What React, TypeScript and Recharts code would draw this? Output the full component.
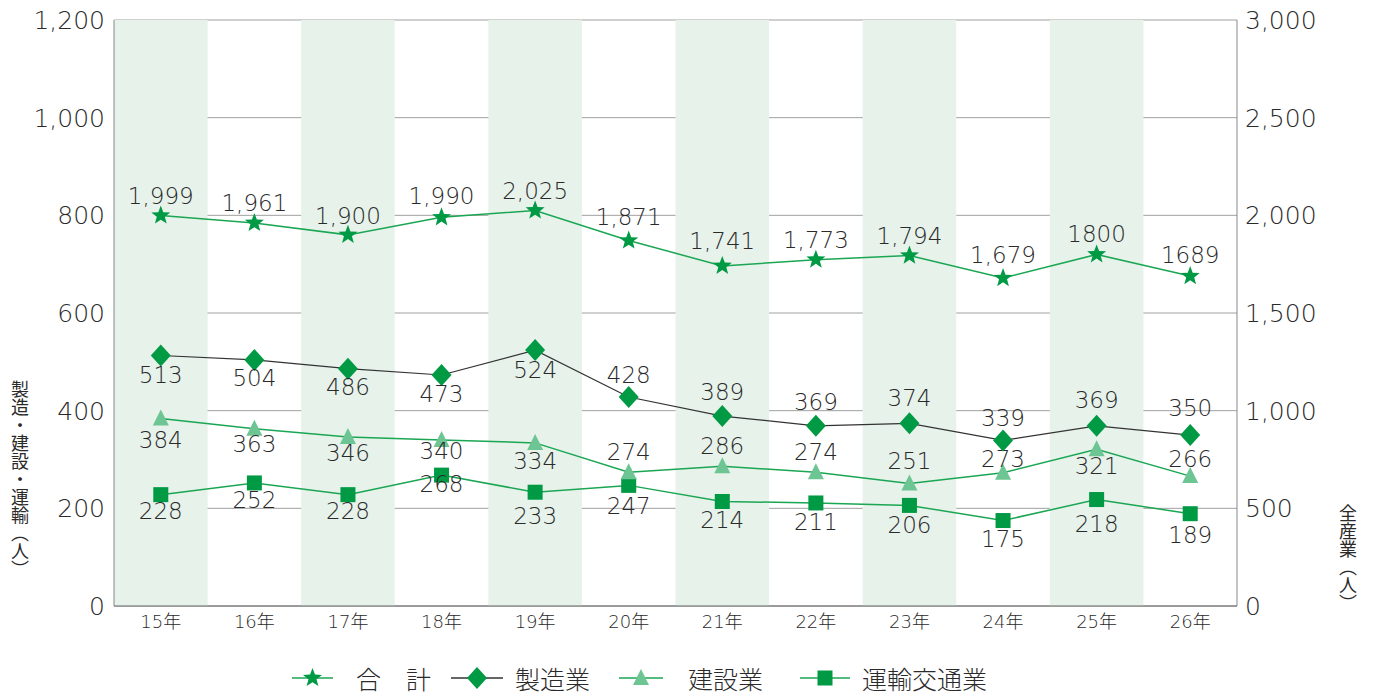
import React from 'react';
import { ComposedChart, Line, XAxis, YAxis, CartesianGrid, ReferenceArea } from 'recharts';

const categories = ['15年', '16年', '17年', '18年', '19年', '20年', '21年', '22年', '23年', '24年', '25年', '26年'];
const totalValues = [1999, 1961, 1900, 1990, 2025, 1871, 1741, 1773, 1794, 1679, 1800, 1689];
const totalLabels = ['1,999', '1,961', '1,900', '1,990', '2,025', '1,871', '1,741', '1,773', '1,794', '1,679', '1800', '1689'];
const manufacturingValues = [513, 504, 486, 473, 524, 428, 389, 369, 374, 339, 369, 350];
const constructionValues = [384, 363, 346, 340, 334, 274, 286, 274, 251, 273, 321, 266];
const transportValues = [228, 252, 228, 268, 233, 247, 214, 211, 206, 175, 218, 189];
const leftTicks = [0, 200, 400, 600, 800, 1000, 1200];
const rightTicks = [0, 500, 1000, 1500, 2000, 2500, 3000];
const shadedCategories = ['15年', '17年', '19年', '21年', '23年', '25年'];
const edgeTicks = [0, 1, 2, 3, 4, 5, 6, 7, 8, 9, 10, 11, 12];

// label offsets (style only)
const totalLabelDy = [-20, -20, -19, -21, -19, -24, -25, -20, -20, -23, -20, -21];
const manufacturingLabelDy = [20, 18, 18, 19, 20, -22, -24, -24, -25, -22, -26, -27];
const constructionLabelDy = [22, 15, 16, 11, 18, -20, -20, -20, -22, -14, 17, -17];
const transportLabelDy = [16, 17, 16, 9, 24, 21, 19, 19, 20, 18, 24, 21];

const data = categories.map((c, i) => ({
  name: c,
  total: totalValues[i],
  manufacturing: manufacturingValues[i],
  construction: constructionValues[i],
  transport: transportValues[i],
}));

const FONT = '"DejaVu Sans", "Noto Sans CJK JP", sans-serif';
const CJK = '"Noto Sans CJK JP", sans-serif';
const TEXT = '#2a2a2a';
const GREEN = '#009944';
const LINE_GREEN = '#1aa653';
const LIGHT_GREEN = '#6cc592';

const fmt = (v: number) => v.toLocaleString('en-US');

const starPoints = (cx: number, cy: number, ro: number, ri: number) => {
  const pts: string[] = [];
  for (let k = 0; k < 10; k++) {
    const r = k % 2 === 0 ? ro : ri;
    const a = -Math.PI / 2 + (k * Math.PI) / 5;
    pts.push(`${cx + r * Math.cos(a)},${cy + r * Math.sin(a)}`);
  }
  return pts.join(' ');
};

const Marker = ({ kind, cx, cy }: { kind: string; cx: number; cy: number }) => {
  if (kind === 'star') return <polygon points={starPoints(cx, cy, 10, 4.2)} fill={GREEN} />;
  if (kind === 'diamond')
    return <polygon points={`${cx},${cy - 11} ${cx + 10},${cy} ${cx},${cy + 11} ${cx - 10},${cy}`} fill={GREEN} />;
  if (kind === 'triangle')
    return <polygon points={`${cx},${cy - 9} ${cx + 8},${cy + 7} ${cx - 8},${cy + 7}`} fill={LIGHT_GREEN} />;
  return <rect x={cx - 7.5} y={cy - 7.5} width={15} height={15} fill={GREEN} />;
};

const makeDot = (kind: string, dys: number[], labels?: string[]) => (props: any) => {
  const { cx, cy, index, value } = props;
  if (cx == null || cy == null) return <g key={`d-${kind}-${index}`} />;
  const text = labels ? labels[index] : String(value);
  return (
    <g key={`d-${kind}-${index}`}>
      <Marker kind={kind} cx={cx} cy={cy} />
      <text
        x={cx}
        y={cy + dys[index]}
        textAnchor="middle"
        dominantBaseline="central"
        fontFamily={FONT}
        fontSize={23}
        fill={TEXT}
        fontWeight={200}
      >
        {text}
      </text>
    </g>
  );
};

const LegendIcon = ({ kind, lineColor, width }: { kind: string; lineColor: string; width: number }) => (
  <svg width={width} height={24} style={{ display: 'block' }}>
    <line x1={0} y1={12} x2={width} y2={12} stroke={lineColor} strokeWidth={1.5} />
    <Marker kind={kind} cx={width / 2} cy={12} />
  </svg>
);

const legendItems = [
  { label: '合　計', kind: 'star', color: LINE_GREEN, iconLeft: 292, iconWidth: 41, textLeft: 356 },
  { label: '製造業', kind: 'diamond', color: '#333333', iconLeft: 451, iconWidth: 52, textLeft: 515 },
  { label: '建設業', kind: 'triangle', color: LINE_GREEN, iconLeft: 619, iconWidth: 44, textLeft: 688 },
  { label: '運輸交通業', kind: 'square', color: LINE_GREEN, iconLeft: 800, iconWidth: 50, textLeft: 862 },
];

export default function App() {
  return (
    <div style={{ position: 'absolute', left: 0, top: 0, width: 1373, height: 695, background: '#fff', overflow: 'hidden' }}>
      <ComposedChart
        width={1373}
        height={695}
        data={data}
        margin={{ top: 20, right: 0, left: 0, bottom: 59 }}
      >
        {shadedCategories.map((c) => (
          <ReferenceArea
            key={c}
            x1={c}
            x2={c}
            yAxisId="left"
            y1={0}
            y2={1200}
            fill="#e6f2ea"
            fillOpacity={1}
            stroke="none"
            ifOverflow="visible"
          />
        ))}
        <CartesianGrid vertical={false} yAxisId="left" stroke="#a0a0a0" strokeWidth={1} />
        <XAxis
          xAxisId="edges"
          type="number"
          domain={[0, 12]}
          ticks={edgeTicks}
          allowDataOverflow
          height={0}
          tickSize={6}
          tickLine={{ stroke: '#555' }}
          axisLine={false}
          tickFormatter={() => ''}
        />
        <XAxis
          dataKey="name"
          scale="band"
          height={30}
          tickLine={false}
          tickSize={0}
          tickMargin={9}
          axisLine={{ stroke: '#666', strokeWidth: 1.2 }}
          tick={{ fill: TEXT, fontSize: 18, fontFamily: FONT, fontWeight: 200 }}
          interval={0}
        />
        <YAxis
          yAxisId="left"
          domain={[0, 1200]}
          ticks={leftTicks}
          width={114}
          tickLine={false}
          tickSize={0}
          tickMargin={9}
          axisLine={{ stroke: '#888' }}
          tickFormatter={fmt}
          tick={{ fill: TEXT, fontSize: 25, fontFamily: FONT, fontWeight: 200 }}
          label={{
            content: (p: any) => {
              const vb = p.viewBox || { x: 0, y: 20, width: 114, height: 586 };
              return (
                <text
                  x={vb.x + 20}
                  y={vb.y + vb.height * 0.784}
                  textAnchor="middle"
                  fontFamily={CJK}
                  fontSize={18}
                  fill={TEXT}
                  style={{ writingMode: 'vertical-rl' } as any}
                >
                  製造・建設・運輸（人）
                </text>
              );
            },
          }}
        />
        <YAxis
          yAxisId="right"
          orientation="right"
          domain={[0, 3000]}
          ticks={rightTicks}
          width={136}
          tickLine={false}
          tickSize={0}
          tickMargin={8}
          axisLine={{ stroke: '#888' }}
          tickFormatter={fmt}
          tick={{ fill: TEXT, fontSize: 25, fontFamily: FONT, fontWeight: 200, textAnchor: 'start' }}
          label={{
            content: (p: any) => {
              const vb = p.viewBox || { x: 1237, y: 20, width: 136, height: 586 };
              return (
                <text
                  x={vb.x + 111}
                  y={vb.y + vb.height * 0.918}
                  textAnchor="middle"
                  fontFamily={CJK}
                  fontSize={18}
                  fill={TEXT}
                  style={{ writingMode: 'vertical-rl' } as any}
                >
                  全産業（人）
                </text>
              );
            },
          }}
        />
        <Line
          yAxisId="left"
          dataKey="transport"
          stroke={LINE_GREEN}
          strokeWidth={1.5}
          isAnimationActive={false}
          dot={makeDot('square', transportLabelDy)}
          activeDot={false}
        />
        <Line
          yAxisId="left"
          dataKey="construction"
          stroke={LINE_GREEN}
          strokeWidth={1.5}
          isAnimationActive={false}
          dot={makeDot('triangle', constructionLabelDy)}
          activeDot={false}
        />
        <Line
          yAxisId="left"
          dataKey="manufacturing"
          stroke="#333333"
          strokeWidth={1.2}
          isAnimationActive={false}
          dot={makeDot('diamond', manufacturingLabelDy)}
          activeDot={false}
        />
        <Line
          yAxisId="right"
          dataKey="total"
          stroke={LINE_GREEN}
          strokeWidth={1.5}
          isAnimationActive={false}
          dot={makeDot('star', totalLabelDy, totalLabels)}
          activeDot={false}
        />
      </ComposedChart>
      {legendItems.map((it) => (
        <React.Fragment key={it.label}>
          <div style={{ position: 'absolute', left: it.iconLeft, top: 666 }}>
            <LegendIcon kind={it.kind} lineColor={it.color} width={it.iconWidth} />
          </div>
          <div
            style={{
              position: 'absolute',
              left: it.textLeft,
              top: 664,
              fontFamily: CJK,
              fontSize: 25,
              lineHeight: '28px',
              fontWeight: 300,
              color: TEXT,
              whiteSpace: 'nowrap',
            }}
          >
            {it.label}
          </div>
        </React.Fragment>
      ))}
    </div>
  );
}
